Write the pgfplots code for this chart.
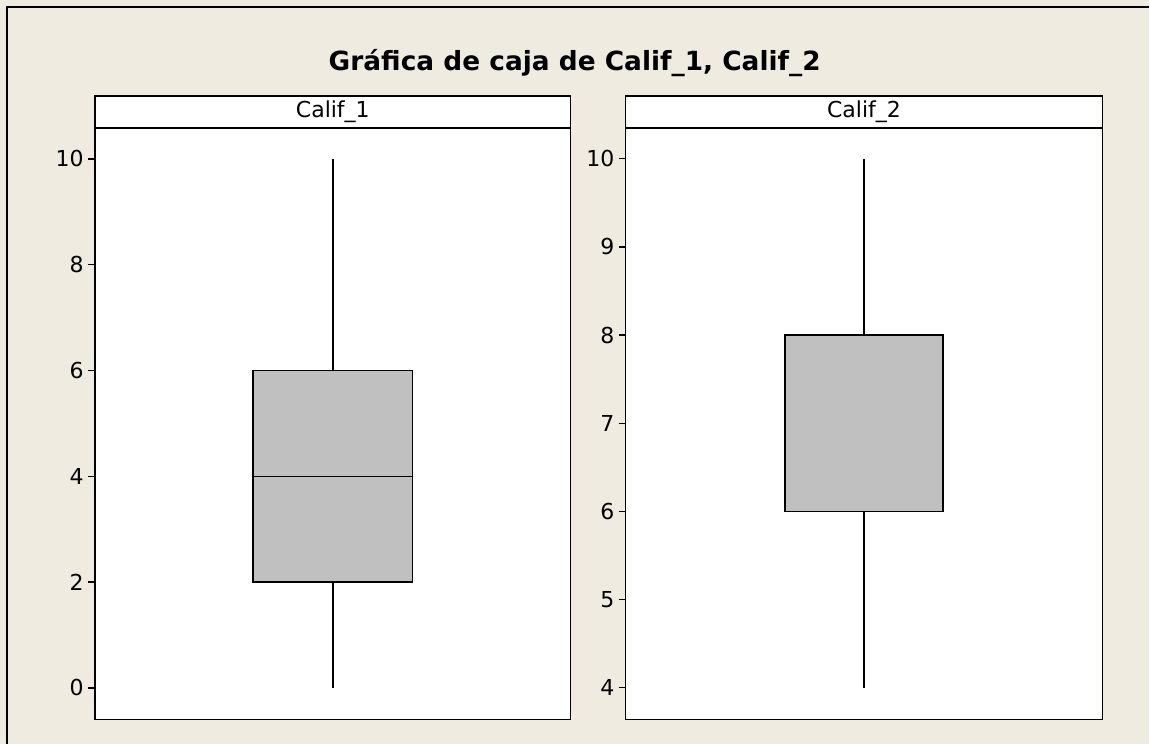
\documentclass[border=0pt]{standalone}
\usepackage{fontspec}
\setmainfont{DejaVu Sans}
\usepackage{pgfplots}
\pgfplotsset{compat=1.18}
\usepgfplotslibrary{statistics}
\definecolor{bg}{HTML}{EFEBE1}
\definecolor{boxg}{HTML}{C0C0C0}
\pgfplotsset{
  panel/.style={
    anchor=south west, scale only axis,
    xmin=0, xmax=2, xtick=\empty,
    tick align=outside, ytick pos=left, major tick length=5pt,
    axis line style={line width=1.1pt},
    axis background/.style={fill=white},
    every tick/.style={black, line width=1pt},
    /pgf/number format/assume math mode=true,
    tick label style={font=\fontsize{16.5}{18}\selectfont},
    boxplot/draw direction=y,
  }
}
\begin{document}
\begin{tikzpicture}[x=0.75pt,y=0.75pt]
\fill[bg] (0,0) rectangle (1150,744);
\draw[line width=1pt] (7,0) -- (7,737) -- (1150,737);
\node[font=\bfseries\fontsize{19.8}{22}\selectfont] at (575,681) {Gráfica de caja de Calif\_1, Calif\_2};
\draw[fill=white, line width=1.1pt] (95,616) rectangle (571,648);
\node[font=\fontsize{16.5}{18}\selectfont] at (333,632) {Calif\_1};
\draw[fill=white, line width=1.1pt] (626,616) rectangle (1103,648);
\node[font=\fontsize{16.5}{18}\selectfont] at (864.5,632) {Calif\_2};
\begin{axis}[panel, at={(71.25pt,18pt)}, width=357pt, height=444pt,
  ymin=-0.6, ymax=10.586, ytick={0,2,4,6,8,10}]
\addplot[draw=black, fill=boxg, line width=1.15pt,
  boxplot prepared={draw position=1, lower whisker=0, lower quartile=2,
  median=4, upper quartile=6, upper whisker=10, box extend=0.672, whisker extend=0}]
  coordinates {};
\end{axis}
\begin{axis}[panel, at={(469.5pt,18pt)}, width=357.75pt, height=444pt,
  ymin=3.637, ymax=10.35, ytick={4,5,6,7,8,9,10}]
\addplot[draw=black, fill=boxg, line width=1.15pt,
  boxplot prepared={draw position=1, lower whisker=4, lower quartile=6,
  median=8, upper quartile=8, upper whisker=10, box extend=0.662, whisker extend=0}]
  coordinates {};
\end{axis}
\end{tikzpicture}
\end{document}
